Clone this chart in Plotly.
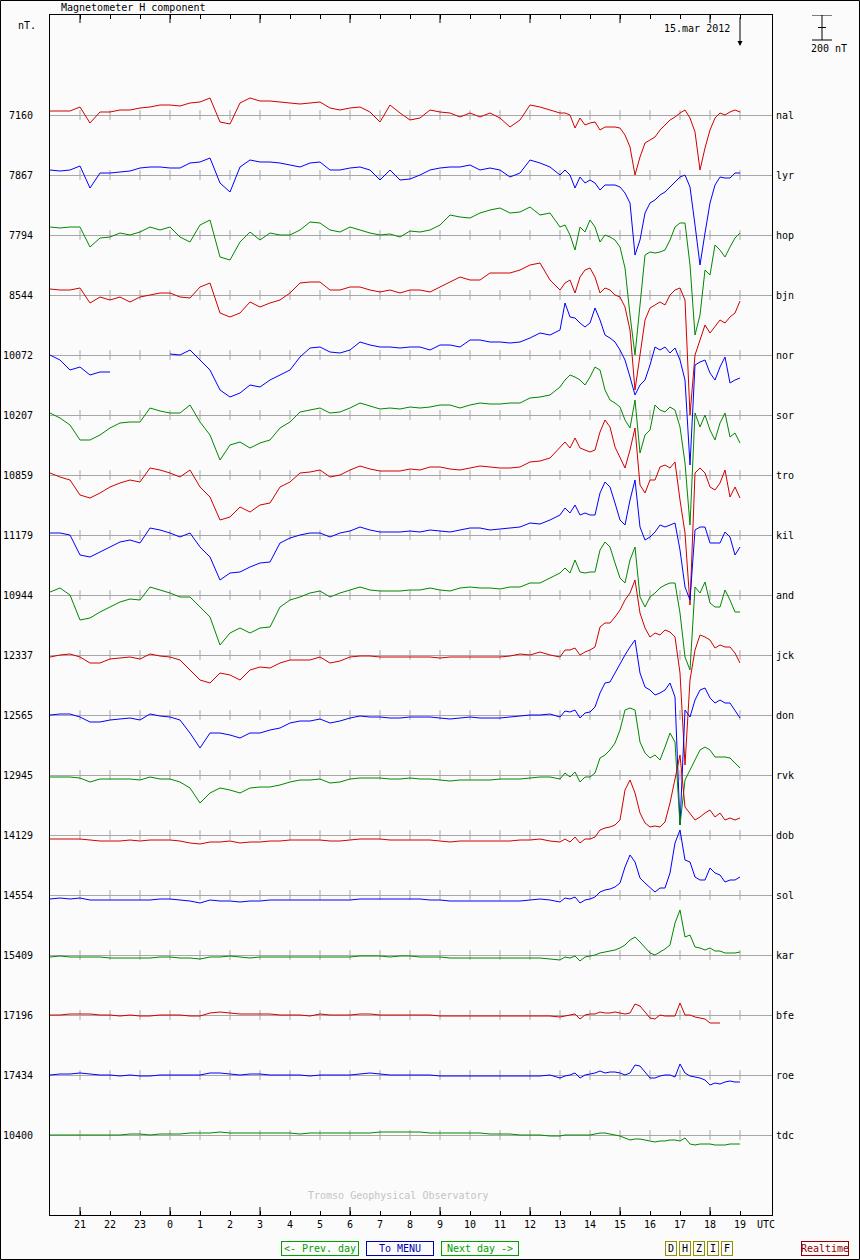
import numpy as np
import plotly.graph_objects as go

## Data: H component deviation from baseline (nT), 14-15 March 2012
# sample times, minutes after 20:00 UTC on 14 March
minutes = list(range(0, 1020, 20)) + list(range(1020, 1381, 10))
hours = [20 + m / 60 for m in minutes]

stations = ["nal", "lyr", "hop", "bjn", "nor", "sor", "tro", "kil", "and",
            "jck", "don", "rvk", "dob", "sol", "kar", "bfe", "roe", "tdc"]
baselines = [7160, 7867, 7794, 8544, 10072, 10207, 10859, 11179, 10944,
             12337, 12565, 12945, 14129, 14554, 15409, 17196, 17434, 10400]
colors = ["#d00000", "#0000ff", "#008800"] * 6

N = None
nal = [32, 32, 32, 64, -64, 24, 24, 40, 40, 56, 64, 80, 80, 72, 96, 104, 136, -56, -72, 96,
       136, 112, 112, 104, 96, 88, 96, 104, 56, 40, 56, 64, 24, -56, 80, 16, -40,
       -24, 40, 24, 16, -16, 16, -16, 16, -24, -96, -40, 80, 64, 40,
       16, 16, 0, -104, -24, -80, -64, -56, -120, -96, -96, -96, -104, -160, -256, -480, -336, -224, -200, -176,
       -120, -80, -40, -16, 16, 40, -24, -136, -440, -264, -120, -24, 16, 0, 24, 40, 24]
lyr = [40, 32, 40, 72, -104, 16, 16, 24, 32, 56, 64, 64, 56, 56, 96, 104, 136, -64, -136, 64,
       120, 104, 104, 96, 80, 64, 96, 104, 40, 40, 56, 64, 40, -40, 40, -40, -32,
       0, 40, 56, 64, 64, 80, 40, 56, 40, -16, 16, 120, 96, 64,
       0, 40, 0, -104, -16, -64, -40, -64, -120, -80, -80, -80, -96, -144, -224, -640, -520, -304, -224, -200,
       -160, -136, -96, -56, -16, 0, -96, -400, -720, -464, -224, -80, -16, -24, -24, 16, 16]
hop = [64, 56, 64, 64, -96, -24, -16, 16, 0, 24, 64, 40, 64, -16, -56, 80, 120, -176, -200, -56,
       24, -40, 16, 0, 0, 40, 104, 96, 40, 24, 64, 40, 16, 0, 8, -16, 32,
       24, 40, 80, 160, 144, 136, 176, 200, 216, 176, 184, 224, 160, 176,
       64, 80, 0, -120, 64, 24, 120, 64, -56, 0, -16, -40, -96, -264, -640, -960, -560, -160, -136, -144,
       -136, -120, -40, 64, 96, 96, -240, -800, -640, -280, -320, -80, -120, -176, -96, -24, 16]
bjn = [48, 40, 40, 56, -64, -16, -40, -16, -56, -16, 0, 16, 16, -16, -24, 64, 96, -144, -176, -144,
       -56, -96, -64, -40, 16, 96, 104, 104, 40, 40, 64, 64, 40, 24, 40, 16, 40,
       40, 24, 64, 104, 144, 120, 120, 176, 176, 176, 200, 240, 256, 120,
       40, 96, 120, 16, 144, 200, 216, 144, 16, 56, 40, 0, -16, -96, -280, -760, -480, -200, -104, -80,
       -56, -80, 0, 40, 56, -40, -960, -480, -360, -240, -304, -256, -200, -224, -176, -144, -48]
nor = [0, -40, -120, -96, -160, -136, -136, N, N, N, N, N, 8, 0, 40, -40, -120, -280, -336, -304,
       -240, -256, -200, -160, -120, -16, 56, 64, 24, 16, 40, 104, 80, 64, 64, 56, 64,
       64, 40, 80, 80, 64, 120, 120, 104, 104, 96, 104, 136, 176, 160,
       200, 416, 304, 296, 256, 224, 256, 376, 280, 160, 136, 104, 40, -40, -176, -320, -240, -200, -80, 64,
       40, 64, 16, 56, -40, -200, -880, -80, -56, -40, -144, -200, -96, -16, -224, -200, -184]
sor = [16, -24, -80, -200, -200, -160, -104, -64, -56, -56, 56, 32, 16, 16, 80, -56, -160, -360, -240, -216,
       -264, -224, -200, -104, -56, 24, 40, 56, 16, 24, 56, 96, 72, 48, 56, 48, 64,
       56, 64, 80, 80, 56, 80, 96, 88, 88, 96, 96, 136, 144, 160,
       224, 280, 320, 304, 280, 240, 304, 384, 360, 200, 120, 96, 64, -40, -104, 120, -304, -160, -120, 80,
       40, 24, 64, 40, -96, -384, -880, 16, -96, 0, -120, -200, -64, 16, -176, -144, -224]
tro = [16, -16, -40, -160, -184, -144, -96, -64, -40, -56, 56, 40, 16, -16, 40, -96, -176, -360, -336, -256,
       -296, -240, -224, -96, -56, 16, 24, 40, -16, 0, 40, 72, 48, 32, 32, 32, 48,
       40, 64, 64, 48, 40, 56, 72, 64, 56, 56, 64, 104, 112, 136,
       224, 264, 216, 296, 216, 200, 184, 200, 344, 440, 384, 224, 136, 56, 200, 376, -80, -144, -40, -40,
       64, 80, 56, 104, -200, -464, -1040, 16, 56, 16, -96, -120, -64, 40, -176, -96, -184]
kil = [16, 16, 0, -160, -176, -136, -96, -56, -40, -64, 56, 40, 16, -16, 16, -96, -176, -360, -304, -296,
       -256, -224, -216, -64, -24, 0, 16, 16, -16, 16, 32, 64, 40, 24, 24, 24, 32,
       24, 40, 32, 24, 40, 56, 56, 40, 48, 56, 64, 96, 88, 120,
       160, 216, 176, 240, 160, 176, 160, 160, 336, 424, 384, 256, 120, 80, 280, 440, 64, -40, -16, 24,
       80, 64, 80, 96, -120, -416, -520, 40, 64, 64, -64, -64, -64, 24, -16, -160, -96]
and_ = [24, 56, 0, -200, -184, -136, -96, -56, -32, -40, 64, 40, 16, -16, -16, -96, -176, -400, -304, -264,
        -304, -264, -256, -96, -40, -16, 16, 32, -16, 16, 40, 64, 40, 32, 32, 32, 40,
        40, 56, 40, 32, 56, 64, 56, 56, 48, 64, 64, 96, 96, 136,
        176, 216, 176, 280, 184, 176, 184, 184, 360, 424, 384, 256, 136, 96, 280, 384, -16, -96, -16, 16,
        56, 80, 96, 96, -144, -496, -600, 64, 16, 104, -64, -96, -96, 40, -40, -136, -136]
jck = [-16, 0, 8, -16, -64, -64, -32, -24, -16, -32, 8, -8, -16, -40, -120, -200, -224, -144, -160, -200,
       -120, -96, -104, -64, -40, -40, -40, -16, -64, -48, -16, -8, -8, -16, -16, -16, -16,
       -16, -16, -24, -16, -16, -16, -16, -16, -16, -8, 8, 0, 24, 0,
       -16, 40, 40, 56, 0, 24, 40, 64, 224, 256, 256, 304, 360, 440, 496, 600, 336, 216, 144, 176,
       160, 200, 184, 144, -144, -880, -200, 40, 160, 144, 120, 56, 80, 64, 64, 16, -64]
don = [0, 8, 8, -16, -56, -56, -40, -32, -24, -40, 8, -8, -16, -40, -144, -264, -144, -144, -160, -184,
       -144, -144, -120, -104, -64, -48, -48, -32, -64, -48, -24, -8, -16, -16, -24, -24, -16,
       -16, -16, -24, -32, -24, -16, -24, -24, -24, -16, -8, 0, 0, 8,
       -16, 32, 24, 40, -24, 16, 24, 64, 176, 256, 264, 336, 416, 480, 544, 600, 336, 224, 200, 160,
       176, 200, 256, 144, -880, 40, -16, 120, 200, 216, 136, 96, 120, 96, 96, 40, -24]
rvk = [-16, -16, -16, -24, -56, -32, -32, -32, -32, -40, -16, -32, -32, -56, -104, -224, -144, -104, -120, -144,
       -104, -96, -96, -80, -56, -40, -40, -32, -64, -56, -32, -24, -24, -24, -32, -32, -24,
       -32, -32, -40, -48, -40, -40, -40, -40, -32, -32, -32, -24, -16, -16,
       -32, 16, -16, 24, -56, -16, -16, 16, 136, 160, 200, 256, 360, 520, 536, 520, 264, 176, 136, 160,
       120, 224, 336, 264, -400, -40, 40, 120, 200, 224, 200, 144, 144, 144, 136, 96, 56]
dob = [-32, -32, -32, -32, -40, -48, -48, -48, -40, -48, -40, -40, -40, -48, -64, -72, -56, -56, -48, -64,
       -56, -56, -48, -48, -40, -40, -40, -40, -48, -48, -40, -32, -32, -32, -40, -40, -40,
       -40, -40, -48, -56, -48, -48, -48, -48, -48, -48, -40, -40, -32, -48,
       -56, -32, -56, -16, -64, -32, -32, -16, 40, 56, 64, 80, 120, 360, 440, 336, 176, 96, 64, 72,
       64, 104, 256, 440, 640, 224, 176, 120, 144, 176, 200, 144, 176, 120, 136, 120, 136]
sol = [-32, -24, -32, -24, -40, -40, -40, -40, -40, -40, -40, -32, -32, -40, -48, -64, -40, -48, -48, -56,
       -48, -48, -40, -40, -40, -40, -40, -40, -40, -40, -40, -32, -32, -32, -32, -32, -32,
       -32, -40, -40, -48, -48, -48, -48, -48, -48, -48, -48, -40, -32, -40,
       -56, -24, -32, -16, -64, -40, -32, -16, 24, 40, 48, 64, 96, 224, 320, 264, 136, 96, 56, 24,
       56, 56, 176, 416, 520, 280, 264, 144, 120, 120, 216, 176, 160, 104, 120, 120, 144]
kar = [-16, -8, -16, -16, -16, -16, -24, -24, -24, -24, -24, -16, -16, -24, -24, -32, -16, -16, -8, -16,
       -24, -16, -16, -16, -16, -16, -16, -16, -16, -16, -16, -8, -8, -8, -16, -8, -8,
       -16, -16, -16, -24, -24, -24, -24, -24, -24, -24, -24, -24, -24, -32,
       -40, -16, -24, -8, -48, -16, -8, 0, 16, 24, 32, 40, 56, 80, 120, 144, 104, 64, 16, 0,
       24, 48, 80, 256, 360, 144, 160, 64, 56, 40, 56, 32, 32, 16, 16, 16, 24]
bfe = [0, 0, 8, 8, 8, 0, 0, -8, 0, -8, -8, 0, 0, 0, -8, -8, 16, 24, 16, 8,
       8, 8, 8, 0, 0, 0, -8, 8, 0, 0, 0, 8, 8, 0, 0, 0, 0,
       0, 0, -8, -8, -8, -8, -8, -8, -8, -8, -8, -8, -8, -8,
       -16, -8, 0, 8, -32, 0, 8, 8, 24, 16, 16, 24, 16, 8, 16, 88, 72, 24, -24, -32,
       0, -8, -8, -8, 96, 0, 0, -16, -24, -32, -64, -64, -64, N, N, N, N]
roe = [0, 8, 8, 16, 8, 0, 0, -8, 0, -8, -8, 0, 0, 0, 0, 0, 16, 16, 8, 0,
       8, 8, 0, 0, 0, 0, -8, 0, 0, 0, 0, 8, 16, 8, 0, 0, 0,
       0, 0, -8, -8, -8, -8, -8, -8, -8, -8, -8, -8, -8, 0,
       -24, -8, 0, 16, -24, 0, 8, 16, 32, 16, 24, 24, 16, 0, 16, 80, 72, 24, -24, -24,
       -8, 0, 0, -16, 88, 16, -8, -16, -24, -40, -80, -64, -72, -56, -48, -56, -56]
tdc = [0, 0, 0, 0, 0, 0, 0, 0, 8, 8, 0, 8, 8, 8, 16, 16, 16, 24, 16, 16,
       16, 16, 16, 16, 16, 8, 16, 16, 16, 16, 16, 16, 16, 24, 24, 24, 24,
       24, 16, 16, 16, 16, 16, 16, 8, 8, 8, 0, 0, 0, -8,
       -8, 0, 0, 0, 0, 0, 0, 8, 16, 16, 8, 0, -8, -24, -40, -32, -32, -40, -48, -56,
       -48, -48, -40, -40, -48, -24, -72, -80, -72, -72, -72, -80, -80, -80, -72, -72, -72]

series = [nal, lyr, hop, bjn, nor, sor, tro, kil, and_, jck, don, rvk, dob, sol, kar, bfe, roe, tdc]

tick_hours = list(range(21, 44))
tick_labels = [str(h % 24) for h in tick_hours]

## Layout constants
SPACING = 480          # nT between stacked baselines
offsets = [-i * SPACING for i in range(len(stations))]
FONT = "DejaVu Sans Mono"
BG = "#fbfbfb"
GRID = "#a8a8a8"

fig = go.Figure()

# small gray hour marks on every baseline
gx, gy = [], []
for off in offsets:
    for h in tick_hours:
        gx.append(h)
        gy.append(off)
fig.add_trace(go.Scatter(x=gx, y=gy, mode="markers", hoverinfo="skip",
                         marker=dict(symbol="line-ns", size=7, line=dict(color=GRID, width=1))))

for name, vals, off, col in zip(stations, series, offsets, colors):
    assert len(vals) == len(hours), name
    y = np.array([np.nan if v is None else v + off for v in vals], dtype=float)
    fig.add_trace(go.Scatter(x=hours, y=y, mode="lines", name=name,
                             line=dict(color=col, width=1)))

annotations = []
for name, off in zip(stations, offsets):
    annotations.append(dict(x=1, xref="paper", y=off, yref="y", text=name, showarrow=False,
                            xanchor="left", xshift=2, font=dict(family=FONT, size=10, color="black")))

txt = dict(family=FONT, size=10, color="black")
annotations += [
    dict(x=0, xref="paper", y=1, yref="paper", text="Magnetometer H component", showarrow=False,
         xanchor="left", yanchor="middle", xshift=9, yshift=8, font=txt),
    dict(x=0, xref="paper", y=1, yref="paper", text="nT.", showarrow=False,
         xanchor="right", yanchor="middle", xshift=-12, yshift=-10, font=txt),
    dict(x=43, xref="x", y=1, yref="paper", text="15.mar 2012", showarrow=False,
         xanchor="right", yanchor="middle", xshift=-8, yshift=-13, font=txt),
    dict(x=43, xref="x", y=(1215 - 46) / 1200, yref="paper", text="", showarrow=True,
         ax=0, ay=-30, arrowhead=2, arrowsize=1, arrowwidth=1, arrowcolor="black"),
    dict(x=(829 - 50) / 722, xref="paper", y=800 - 33 * 8, yref="y", text="200 nT", showarrow=False,
         xanchor="center", yanchor="middle", font=txt),
    dict(x=(766 - 50) / 722, xref="paper", y=0, yref="paper", text="UTC", showarrow=False,
         xanchor="center", yanchor="top", yshift=-2, font=txt),
    dict(x=(398 - 50) / 722, xref="paper", y=(1215 - 1203) / 1200, yref="paper",
         text="Tromso Geophysical Observatory", showarrow=False, xanchor="center",
         font=dict(family=FONT, size=10, color="#c4c4c4")),
]

# navigation buttons along the bottom
btn_y = (1215 - 1248.5) / 1200
buttons = [("&lt;- Prev. day", 320, 76, "#00a000", "#00a000"),
           ("To MENU", 400, 66, "#0000b0", "#0000b0"),
           ("Next day -&gt;", 480, 76, "#00a000", "#00a000"),
           ("D", 671, 10, "black", "#909000"),
           ("H", 685, 10, "black", "#909000"),
           ("Z", 699, 10, "black", "#909000"),
           ("I", 713, 10, "black", "#909000"),
           ("F", 727, 10, "black", "#909000"),
           ("Realtime", 825, 46, "#900000", "#900000")]
for label, cx, w, fc, bc in buttons:
    annotations.append(dict(x=(cx - 50) / 722, xref="paper", y=btn_y, yref="paper", text=label,
                            xanchor="center", yanchor="middle",
                            showarrow=False, width=w, height=13, bordercolor=bc, borderwidth=1,
                            borderpad=0, font=dict(family=FONT, size=10, color=fc)))

shapes = []
# long ticks every three hours, bottom and top
for h in range(21, 44, 3):
    shapes.append(dict(type="line", xref="x", yref="paper", x0=h, x1=h, y0=0, y1=8 / 1200,
                       line=dict(color="black", width=1)))
    shapes.append(dict(type="line", xref="x", yref="paper", x0=h, x1=h, y0=1 - 8 / 1200, y1=1,
                       line=dict(color="black", width=1)))
# 200 nT scale bar
bx = (822 - 50) / 722
bl, br = (812 - 50) / 722, (832 - 50) / 722
ml, mr = (818 - 50) / 722, (826 - 50) / 722
for x0, x1, y0, y1 in [(bx, bx, 600, 800), (bl, br, 800, 800), (bl, br, 600, 600), (ml, mr, 700, 700)]:
    shapes.append(dict(type="line", xref="paper", yref="y", x0=x0, x1=x1, y0=y0, y1=y1,
                       line=dict(color="black", width=1)))
# frame around the whole picture
shapes.append(dict(type="rect", xref="paper", yref="paper",
                   x0=(0.5 - 50) / 722, x1=(859.5 - 50) / 722,
                   y0=(1215 - 1259.5) / 1200, y1=(1215 - 0.5) / 1200,
                   line=dict(color="black", width=1)))

fig.update_layout(
    width=860, height=1260,
    margin=dict(l=50, r=88, t=15, b=45, autoexpand=False),
    paper_bgcolor=BG, plot_bgcolor=BG,
    showlegend=False,
    hovermode=False,
    annotations=annotations,
    shapes=shapes,
    xaxis=dict(range=[20, 20 + 722 / 30], tickmode="array", tickvals=tick_hours, ticktext=tick_labels,
               ticks="inside", ticklen=4, tickcolor="black", tickwidth=1,
               showline=True, linecolor="black", linewidth=1, mirror="ticks",
               showgrid=False, zeroline=False, tickfont=txt, automargin=False),
    yaxis=dict(range=[-8800, 800], tickmode="array", tickvals=offsets, ticktext=[str(b) for b in baselines],
               ticks="", showgrid=True, gridcolor=GRID, gridwidth=1,
               showline=True, linecolor="black", linewidth=1, mirror=True,
               zeroline=False, tickfont=txt, ticklabelstandoff=14, automargin=False),
)

fig.write_html("out.html", config={"displayModeBar": False},
               post_script="document.body.style.margin='0';document.body.style.overflow='hidden';")
